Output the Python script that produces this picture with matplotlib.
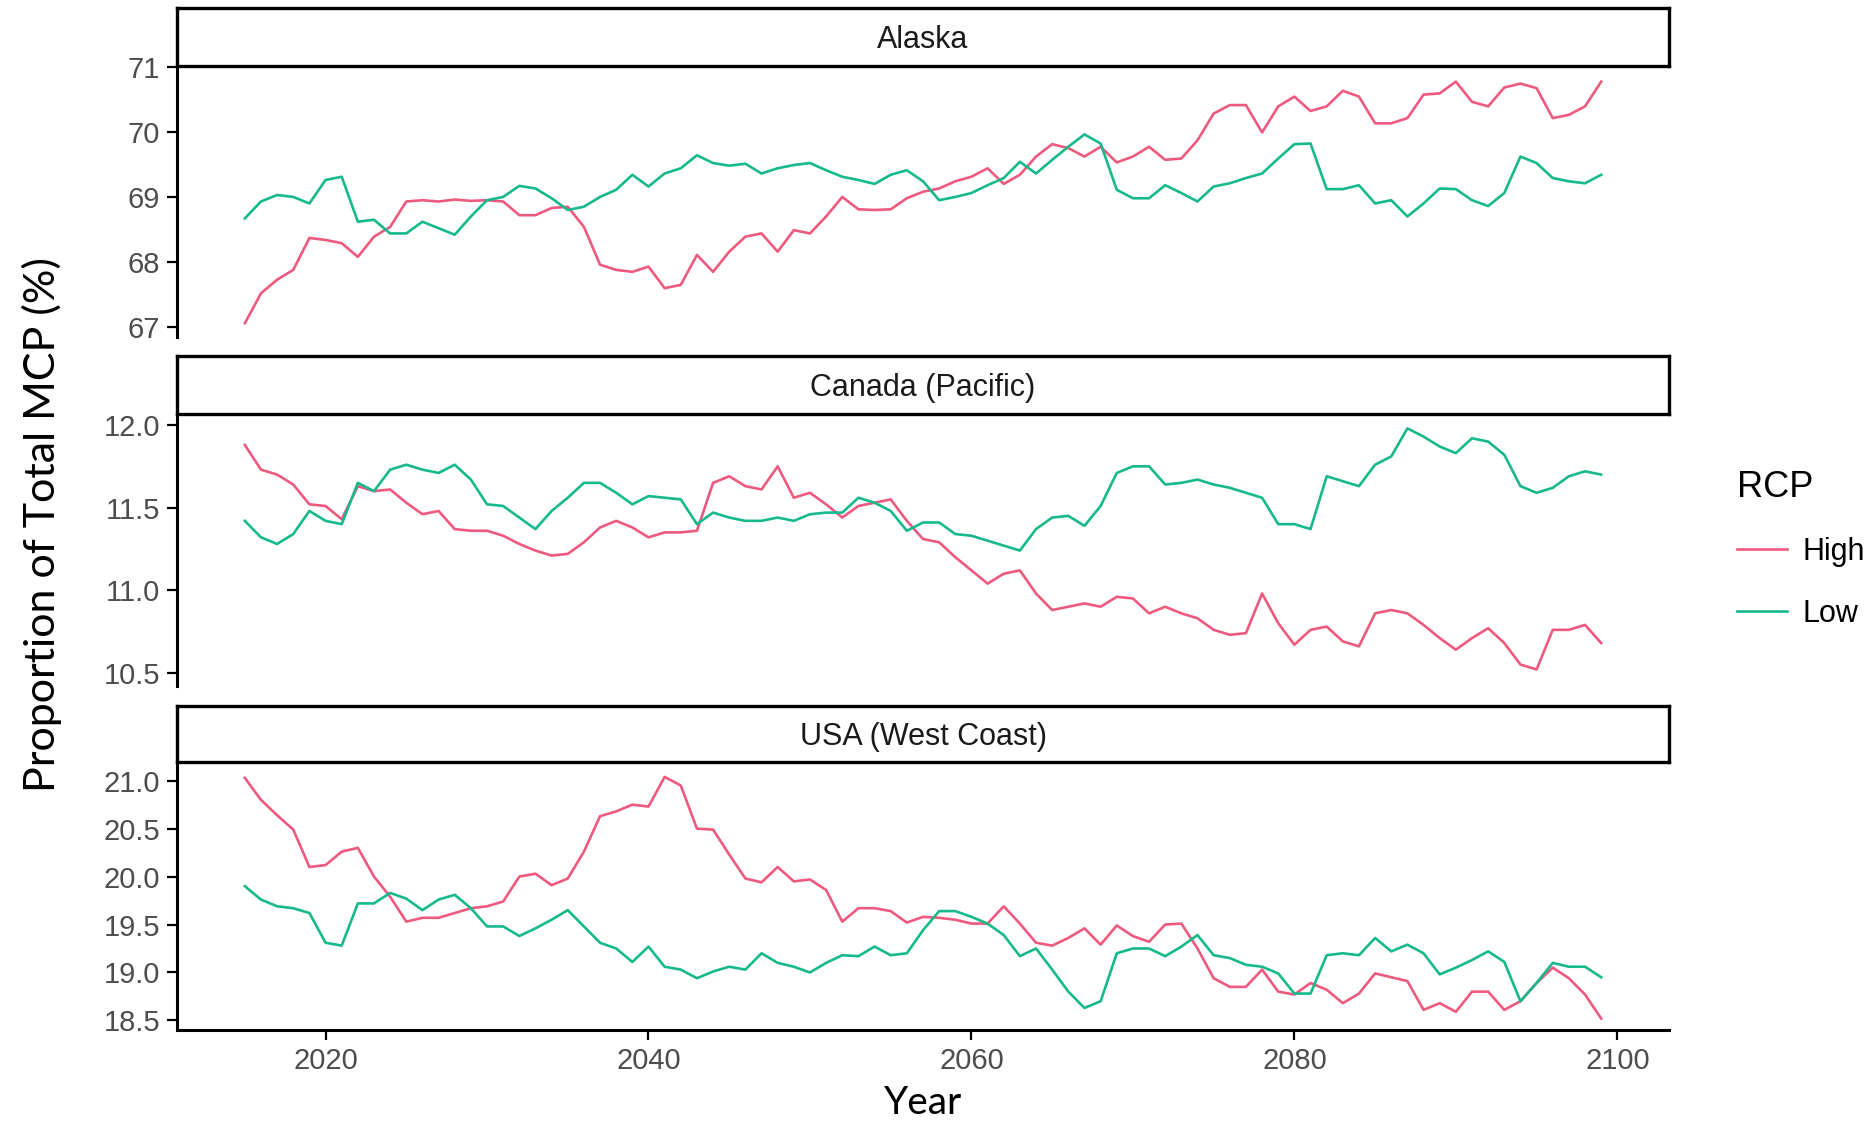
import matplotlib
matplotlib.use('Agg')
import matplotlib.pyplot as plt
import numpy as np

# yearly values, 2015-2099
years = np.arange(2015, 2100)

regions = ['Alaska', 'Canada (Pacific)', 'USA (West Coast)']

alaska_high = [67.06, 67.52, 67.73, 67.88, 68.37, 68.34, 68.29, 68.08, 68.39, 68.54,
               68.93, 68.95, 68.93, 68.96, 68.94, 68.95, 68.93, 68.72, 68.72, 68.83,
               68.85, 68.54, 67.96, 67.88, 67.85, 67.93, 67.60, 67.65, 68.11, 67.85,
               68.16, 68.39, 68.44, 68.16, 68.49, 68.44, 68.70, 69.00, 68.81, 68.80,
               68.81, 68.98, 69.08, 69.13, 69.24, 69.31, 69.44, 69.20, 69.34, 69.62,
               69.81, 69.75, 69.62, 69.77, 69.53, 69.62, 69.77, 69.57, 69.59, 69.87,
               70.28, 70.41, 70.41, 69.99, 70.39, 70.54, 70.32, 70.39, 70.63, 70.54,
               70.13, 70.13, 70.21, 70.57, 70.59, 70.77, 70.46, 70.39, 70.68, 70.74,
               70.67, 70.21, 70.26, 70.39, 70.77]
alaska_low = [68.67, 68.93, 69.03, 69.00, 68.90, 69.26, 69.31, 68.62, 68.65, 68.44,
              68.44, 68.62, 68.52, 68.42, 68.70, 68.95, 69.00, 69.17, 69.13, 68.98,
              68.80, 68.85, 69.00, 69.11, 69.34, 69.16, 69.36, 69.44, 69.64, 69.52,
              69.48, 69.51, 69.36, 69.44, 69.49, 69.52, 69.41, 69.31, 69.26, 69.20,
              69.34, 69.41, 69.24, 68.95, 69.00, 69.06, 69.18, 69.29, 69.54, 69.36,
              69.57, 69.77, 69.96, 69.82, 69.11, 68.98, 68.98, 69.18, 69.06, 68.93,
              69.16, 69.21, 69.29, 69.36, 69.59, 69.81, 69.82, 69.12, 69.12, 69.18,
              68.90, 68.95, 68.70, 68.90, 69.13, 69.12, 68.95, 68.86, 69.06, 69.62,
              69.52, 69.29, 69.24, 69.21, 69.34]

canada_high = [11.88, 11.73, 11.70, 11.64, 11.52, 11.51, 11.43, 11.63, 11.60, 11.61,
               11.53, 11.46, 11.48, 11.37, 11.36, 11.36, 11.33, 11.28, 11.24, 11.21,
               11.22, 11.29, 11.38, 11.42, 11.38, 11.32, 11.35, 11.35, 11.36, 11.65,
               11.69, 11.63, 11.61, 11.75, 11.56, 11.59, 11.52, 11.44, 11.51, 11.53,
               11.55, 11.42, 11.31, 11.29, 11.20, 11.12, 11.04, 11.10, 11.12, 10.98,
               10.88, 10.90, 10.92, 10.90, 10.96, 10.95, 10.86, 10.90, 10.86, 10.83,
               10.76, 10.73, 10.74, 10.98, 10.80, 10.67, 10.76, 10.78, 10.69, 10.66,
               10.86, 10.88, 10.86, 10.79, 10.71, 10.64, 10.71, 10.77, 10.68, 10.55,
               10.52, 10.76, 10.76, 10.79, 10.68]
canada_low = [11.42, 11.32, 11.28, 11.34, 11.48, 11.42, 11.40, 11.65, 11.60, 11.73,
              11.76, 11.73, 11.71, 11.76, 11.67, 11.52, 11.51, 11.44, 11.37, 11.48,
              11.56, 11.65, 11.65, 11.59, 11.52, 11.57, 11.56, 11.55, 11.40, 11.47,
              11.44, 11.42, 11.42, 11.44, 11.42, 11.46, 11.47, 11.47, 11.56, 11.53,
              11.48, 11.36, 11.41, 11.41, 11.34, 11.33, 11.30, 11.27, 11.24, 11.37,
              11.44, 11.45, 11.39, 11.51, 11.71, 11.75, 11.75, 11.64, 11.65, 11.67,
              11.64, 11.62, 11.59, 11.56, 11.40, 11.40, 11.37, 11.69, 11.66, 11.63,
              11.76, 11.81, 11.98, 11.93, 11.87, 11.83, 11.92, 11.90, 11.82, 11.63,
              11.59, 11.62, 11.69, 11.72, 11.70]

usa_high = [21.03, 20.80, 20.64, 20.49, 20.10, 20.12, 20.26, 20.30, 20.00, 19.79,
            19.53, 19.57, 19.57, 19.62, 19.67, 19.69, 19.74, 20.00, 20.03, 19.91,
            19.98, 20.26, 20.63, 20.68, 20.75, 20.73, 21.04, 20.95, 20.50, 20.49,
            20.23, 19.98, 19.94, 20.10, 19.95, 19.97, 19.86, 19.53, 19.67, 19.67,
            19.64, 19.52, 19.58, 19.57, 19.55, 19.51, 19.51, 19.69, 19.51, 19.31,
            19.28, 19.36, 19.46, 19.29, 19.49, 19.38, 19.32, 19.50, 19.51, 19.25,
            18.94, 18.85, 18.85, 19.03, 18.80, 18.77, 18.89, 18.82, 18.68, 18.78,
            18.99, 18.95, 18.91, 18.61, 18.68, 18.59, 18.80, 18.80, 18.61, 18.70,
            18.89, 19.05, 18.94, 18.77, 18.52]
usa_low = [19.90, 19.76, 19.69, 19.67, 19.62, 19.31, 19.28, 19.72, 19.72, 19.83,
           19.77, 19.65, 19.76, 19.81, 19.67, 19.48, 19.48, 19.38, 19.46, 19.55,
           19.65, 19.48, 19.31, 19.25, 19.11, 19.27, 19.06, 19.03, 18.94, 19.01,
           19.06, 19.03, 19.20, 19.10, 19.06, 19.00, 19.10, 19.18, 19.17, 19.27,
           19.18, 19.20, 19.44, 19.64, 19.64, 19.58, 19.51, 19.39, 19.17, 19.25,
           19.03, 18.80, 18.63, 18.70, 19.20, 19.25, 19.25, 19.17, 19.27, 19.39,
           19.18, 19.15, 19.08, 19.06, 18.99, 18.78, 18.78, 19.18, 19.20, 19.18,
           19.36, 19.22, 19.29, 19.20, 18.98, 19.05, 19.13, 19.22, 19.11, 18.70,
           18.89, 19.10, 19.06, 19.06, 18.95]

high_values = [alaska_high, canada_high, usa_high]
low_values = [alaska_low, canada_low, usa_low]

y_ticks = [[67, 68, 69, 70, 71],
           [10.5, 11.0, 11.5, 12.0],
           [18.5, 19.0, 19.5, 20.0, 20.5, 21.0]]
y_tick_labels = [['67', '68', '69', '70', '71'],
                 ['10.5', '11.0', '11.5', '12.0'],
                 ['18.5', '19.0', '19.5', '20.0', '20.5', '21.0']]
y_limits = [(66.85, 71.01), (10.42, 12.067), (18.40, 21.195)]
x_ticks = [2020, 2040, 2060, 2080, 2100]

series_names = ['High', 'Low']
colors = ['#EE5A7E', '#16B98C']

W, H = 1872, 1125
fig = plt.figure(figsize=(W / 100, H / 100), dpi=100)
fig.patch.set_facecolor('white')

# pixel layout: (strip top, strip bottom, panel bottom)
rows = [(8, 66, 337), (356, 414, 686), (706, 762, 1030)]
left, right = 177, 1669
tick_font = ['Liberation Sans', 'DejaVu Sans']


def fig_box(x0, y0, x1, y1):
    return [x0 / W, 1 - y1 / H, (x1 - x0) / W, (y1 - y0) / H]


for i, (s_top, s_bot, p_bot) in enumerate(rows):
    ax = fig.add_axes(fig_box(left, s_bot, right, p_bot))
    ax.patch.set_alpha(0)
    ax.plot(years, high_values[i], color=colors[0], lw=1.9, label=series_names[0])
    ax.plot(years, low_values[i], color=colors[1], lw=1.9, label=series_names[1])
    ax.set_xlim(2010.8, 2103.2)
    ax.set_ylim(*y_limits[i])
    ax.set_yticks(y_ticks[i])
    ax.set_yticklabels(y_tick_labels[i], family=tick_font, fontsize=21, color='#4D4D4D')
    ax.spines['top'].set_visible(False)
    ax.spines['right'].set_visible(False)
    ax.spines['left'].set_linewidth(2.2)
    ax.tick_params(axis='y', length=7, width=1.6, pad=5)
    if i < 2:
        ax.spines['bottom'].set_visible(False)
        ax.set_xticks([])
    else:
        ax.spines['bottom'].set_linewidth(2.2)
        ax.set_xticks(x_ticks)
        ax.set_xticklabels([str(t) for t in x_ticks], family=tick_font,
                           fontsize=21, color='#4D4D4D')
        ax.tick_params(axis='x', length=7, width=1.6, pad=5)
        legend_handles = ax.get_lines()

    # strip on top of the panel
    sax = fig.add_axes(fig_box(left, s_top, right, s_bot))
    sax.set_zorder(5)
    sax.set_xticks([])
    sax.set_yticks([])
    for sp in sax.spines.values():
        sp.set_linewidth(2.4)
        sp.set_color('black')
    sax.text(0.5, 0.44, regions[i], ha='center', va='center', fontsize=22,
             color='#1A1A1A', family=tick_font, transform=sax.transAxes)

# axis titles
title_font = ['Lato', 'DejaVu Sans']
fig.text((left + right) / 2 / W, 1 - 1103 / H, 'Year', ha='center', va='center',
         fontsize=28, family=title_font, color='black')
fig.text(42 / W, 1 - 525 / H, 'Proportion of Total MCP (%)', ha='center', va='center',
         rotation=90, fontsize=31, family=title_font, color='black')

# legend
leg = fig.legend(legend_handles, series_names, loc='upper left',
                 bbox_to_anchor=(1737 / W, 1 - 470 / H), frameon=False,
                 borderpad=0, borderaxespad=0,
                 title='RCP', prop={'family': tick_font, 'size': 22},
                 handlelength=1.65, labelspacing=1.05, handletextpad=0.5)
leg.get_title().set_fontsize(26)
leg.get_title().set_family(tick_font)
leg._legend_box.align = 'left'

fig.savefig('out.png', dpi=100, facecolor='white')
